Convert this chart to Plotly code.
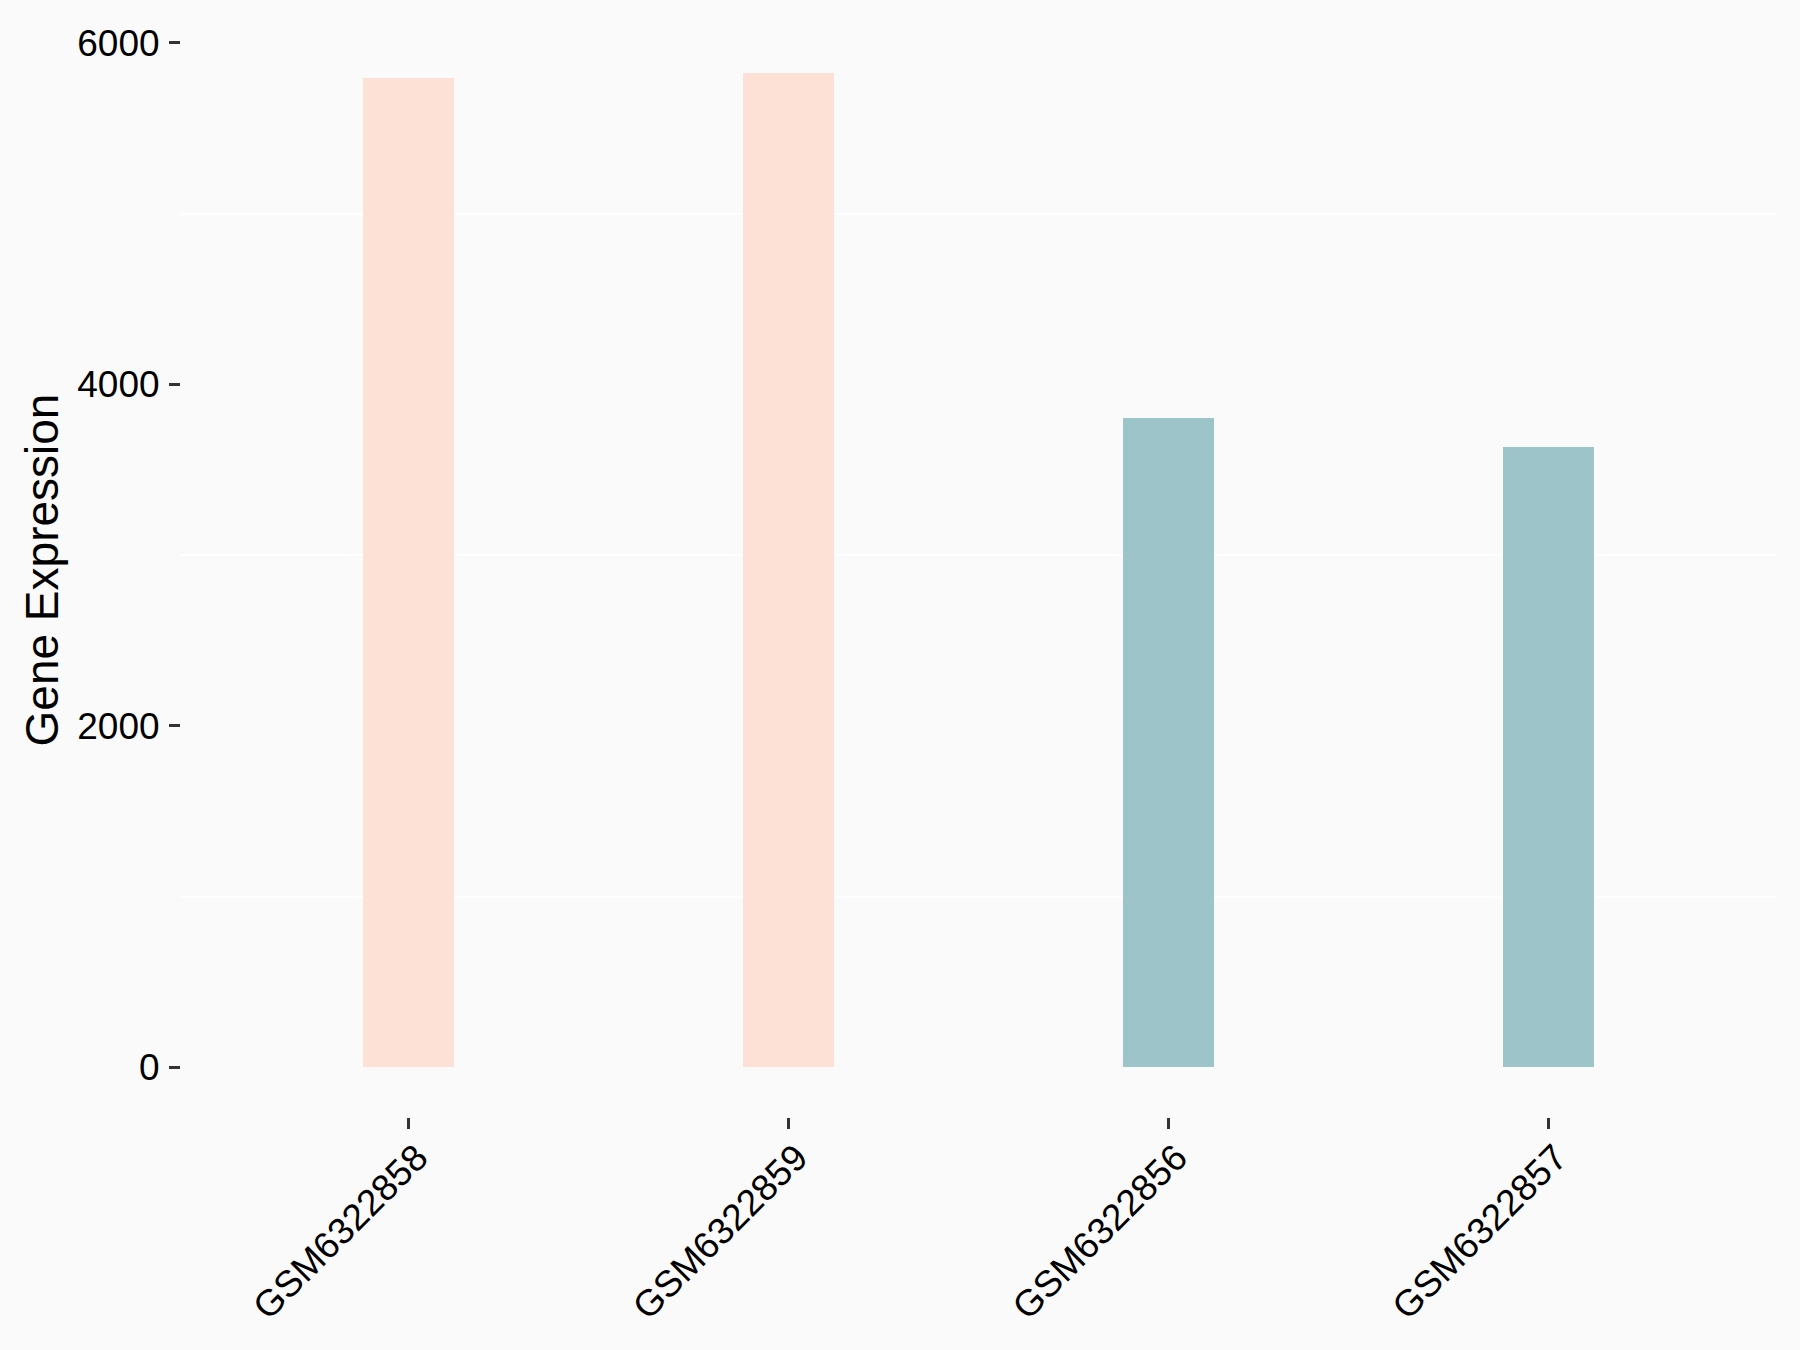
import plotly.graph_objects as go

samples = ["GSM6322858", "GSM6322859", "GSM6322856", "GSM6322857"]
expression = [5795, 5825, 3805, 3635]
bar_colors = ["#FDE0D6", "#FDE0D6", "#9DC4C8", "#9DC4C8"]
y_ticks = [0, 2000, 4000, 6000]
y_minor = [1000, 3000, 5000]

ymax = max(expression)
pad = ymax * 0.05

fig = go.Figure()
fig.add_trace(go.Bar(
    x=samples, y=expression, width=0.24,
    marker=dict(color=bar_colors, line=dict(width=0)),
))

fig.update_layout(
    width=1800, height=1350,
    margin=dict(l=181, r=24, t=23, b=233),
    paper_bgcolor="#FAFAFA", plot_bgcolor="#FAFAFA",
    font=dict(family="Liberation Sans, Arial, sans-serif", size=37, color="black"),
    showlegend=False,
    bargap=0,
)
fig.update_xaxes(
    range=[-0.6, len(samples) - 0.4],
    showgrid=False, zeroline=False, showline=False,
    ticks="outside", ticklen=11, tickwidth=3, tickcolor="#333333",
    tickangle=-45, tickfont=dict(size=37, color="black"),
    ticklabelshift=8, ticklabelstandoff=-8,
)
fig.update_yaxes(
    range=[-pad, ymax + pad],
    tickvals=y_ticks, ticktext=[str(v) for v in y_ticks],
    showgrid=False, zeroline=False, showline=False,
    ticks="outside", ticklen=11, tickwidth=3, tickcolor="#333333",
    ticklabelstandoff=2,
    tickfont=dict(size=37, color="black"),
    minor=dict(tickvals=y_minor, showgrid=True, gridcolor="white", gridwidth=2, ticks=""),
    title=dict(text="Gene Expression", font=dict(size=46, color="black"), standoff=4),
)

# drop the page's default body margin so the figure sits at the window corner
fig.write_html("out.html", config={"displayModeBar": False},
               post_script="document.body.style.margin='0';")
